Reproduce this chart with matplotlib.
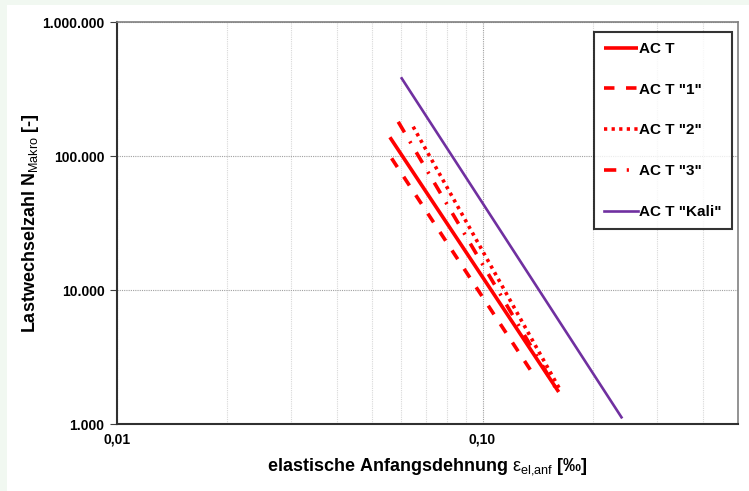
import matplotlib
matplotlib.use('Agg')
import matplotlib.pyplot as plt
from matplotlib.patches import Rectangle
from matplotlib.ticker import FixedLocator, FuncFormatter, NullFormatter

plt.rcParams['font.family'] = ['Liberation Sans', 'DejaVu Sans']
plt.rcParams['mathtext.fontset'] = 'custom'
plt.rcParams['mathtext.rm'] = 'Liberation Sans'
plt.rcParams['mathtext.bf'] = 'Liberation Sans:bold'

# endpoints (strain in per mille, load cycles)
labels = ['AC T', 'AC T "1"', 'AC T "2"', 'AC T "3"', 'AC T "Kali"']
strain_act = [0.0558, 0.1616]
cycles_act = [138000, 1734]
strain_1 = [0.0564, 0.1396]
cycles_1 = [96100, 2217]
strain_2 = [0.0646, 0.1626]
cycles_2 = [165500, 1824]
strain_3 = [0.0588, 0.1586]
cycles_3 = [180000, 1857]
strain_kali = [0.0601, 0.240]
cycles_kali = [380000, 1122]

x_major = [0.01, 0.1]
x_minor = [0.02, 0.03, 0.04, 0.05, 0.06, 0.07, 0.08, 0.09, 0.2, 0.3, 0.4]
y_major = [1000, 10000, 100000, 1000000]

red = '#ff0000'
purple = '#7030a0'

fig = plt.figure(figsize=(7.49, 4.91), dpi=100, facecolor='#f1f8f1')
fig.patches.append(Rectangle((7 / 749, 0), 1, 1 - 5 / 491, transform=fig.transFigure,
                             facecolor='white', edgecolor='none', zorder=-1))
ax = fig.add_axes([117 / 749, 1 - 424 / 491, (738 - 117) / 749, (424 - 22) / 491])

ax.plot(strain_act, cycles_act, color=red, lw=2.6, label=labels[0], solid_capstyle='butt')
ax.plot(strain_1, cycles_1, color=red, lw=2.6, dashes=(2.9, 3.2), label=labels[1])
ax.plot(strain_2, cycles_2, color=red, lw=2.6, dashes=(0.9, 1.2), label=labels[2])
ax.plot(strain_3, cycles_3, color=red, lw=2.6, dashes=(3.4, 2.9, 0.6, 2.9), label=labels[3])
ax.plot(strain_kali, cycles_kali, color=purple, lw=1.9, label=labels[4])

ax.set_xscale('log')
ax.set_yscale('log')
ax.set_xlim(0.01, 0.5)
ax.set_ylim(1000, 1000000)

ax.xaxis.set_major_locator(FixedLocator(x_major))
ax.xaxis.set_minor_locator(FixedLocator(x_minor))
ax.xaxis.set_major_formatter(FuncFormatter(lambda v, p: f'{v:.2f}'.replace('.', ',')))
ax.xaxis.set_minor_formatter(NullFormatter())
ax.yaxis.set_major_locator(FixedLocator(y_major))
ax.yaxis.set_minor_locator(FixedLocator([]))
ax.yaxis.set_major_formatter(FuncFormatter(lambda v, p: f'{int(v):,}'.replace(',', '.')))

ax.grid(True, which='major', axis='both', color='#a0a0a0', ls=(0, (1, 1)), lw=0.8)
ax.grid(True, which='minor', axis='x', color='#d8d8d8', ls=(0, (1, 1)), lw=0.8)

ax.tick_params(axis='y', which='major', length=5, direction='out', pad=4,
               labelsize=10, color='#404040')
ax.tick_params(axis='x', which='both', length=0, pad=6, labelsize=10)
for lab in ax.get_xticklabels() + ax.get_yticklabels():
    lab.set_fontweight('bold')

for side in ['left', 'bottom']:
    ax.spines[side].set_color('#303030')
    ax.spines[side].set_linewidth(1.5)
for side in ['top', 'right']:
    ax.spines[side].set_color('#808080')
    ax.spines[side].set_linewidth(1.2)

ax.set_ylabel(r'Lastwechselzahl N$_{\mathrm{Makro}}$ [-]', fontsize=13, fontweight='bold', labelpad=1)
ax.set_xlabel(r'elastische Anfangsdehnung $\mathrm{ε}_{\mathrm{el{,}anf}}$ [‰]', fontsize=13,
              fontweight='bold', labelpad=7)

leg = ax.legend(loc='upper right', bbox_to_anchor=(0.99, 0.975), frameon=True, fancybox=False,
                labelspacing=1.75, handlelength=2.2, handletextpad=0.1,
                borderpad=0.65, borderaxespad=0, prop={'weight': 'bold', 'size': 11})
leg.get_frame().set_edgecolor('black')
leg.get_frame().set_linewidth(1.5)

fig.savefig('out.png', dpi=100, facecolor=fig.get_facecolor())
